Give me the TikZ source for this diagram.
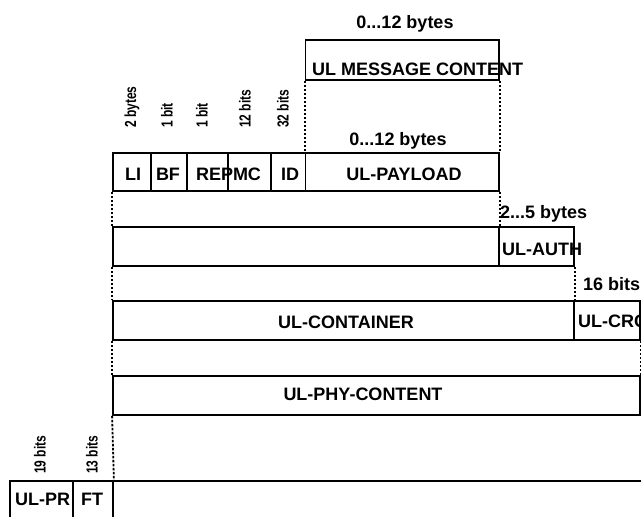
\documentclass[tikz,border=0pt]{standalone}
\usepackage{fontspec}
\setmainfont{Liberation Sans}
\newfontfamily\narrowlbl[FakeStretch=0.75]{Liberation Sans}
\begin{document}
\begin{tikzpicture}[x=1pt,y=-1pt,
  cell/.style={draw=black, line width=1.8pt, inner sep=0pt, fill=none},
  dots/.style={draw=black, line width=1.8pt, dash pattern=on 2.4pt off 1.6pt},
  big/.style={inner sep=0pt, font=\fontsize{18}{20}\selectfont\bfseries},
  small/.style={inner sep=0pt, rotate=90, anchor=west, font=\narrowlbl\fontsize{16}{18}\selectfont\bfseries}]
\useasboundingbox (0,0) rectangle (641,517);
\clip (0,0) rectangle (641,517);
% cells
\node[cell, minimum width=193.5pt, minimum height=40pt] (msg) at (402.25,60) {};
\node[cell, minimum width=38pt, minimum height=38pt] (LI) at (132,172) {};
\node[cell, minimum width=36pt, minimum height=38pt] (BF) at (169,172) {};
\node[cell, minimum width=41pt, minimum height=38pt] (REP) at (207.5,172) {};
\node[cell, minimum width=43pt, minimum height=38pt] (MC) at (249.5,172) {};
\node[cell, minimum width=34.5pt, minimum height=38pt] (ID) at (288.25,172) {};
\node[cell, minimum width=193.5pt, minimum height=38pt] (pay) at (402.25,172) {};
\node[cell, minimum width=386pt, minimum height=39pt] (rtwo) at (306,246.5) {};
\node[cell, minimum width=75pt, minimum height=39pt] (auth) at (536.5,246.5) {};
\node[cell, minimum width=461pt, minimum height=39pt] (cont) at (343.5,320.5) {};
\node[cell, minimum width=66pt, minimum height=39pt] (crc) at (607,320.5) {};
\node[cell, minimum width=527pt, minimum height=39pt] (phy) at (376.5,395.5) {};
\node[cell, minimum width=63pt, minimum height=79pt] (pr) at (41.5,520.5) {};
\node[cell, minimum width=40pt, minimum height=79pt] (ft) at (93,520.5) {};
\node[cell, minimum width=587pt, minimum height=79pt] (rfive) at (406.5,520.5) {};
% dotted connectors
\draw[dots] (msg.south west) -- (pay.north west);
\draw[dots] (msg.south east) -- (pay.north east);
\draw[dots] (LI.south west) -- (rtwo.north west);
\draw[dots] (pay.south east) -- (rtwo.north east);
\draw[dots] (rtwo.south west) -- (cont.north west);
\draw[dots] (auth.south east) -- (cont.north east);
\draw[dots] (cont.south west) -- (phy.north west);
\draw[dots] (crc.south east) -- (phy.north east);
\draw[dots] (phy.south west) -- (ft.north east);
% labels
\node[big, anchor=base] (l1) at (405,28) {0...12 bytes};
\node[big, anchor=base west] (l2) at (312,75) {UL MESSAGE CONTENT};
\node[big, anchor=base] (l3) at (398,145) {0...12 bytes};
\node[big, anchor=base] (tLI) at (133,180) {LI};
\node[big, anchor=base] (tBF) at (168,180) {BF};
\node[big, anchor=base west] (tREP) at (196,180) {REP};
\node[big, anchor=base] (tMC) at (247,180) {MC};
\node[big, anchor=base] (tID) at (290,180) {ID};
\node[big, anchor=base] (tPAY) at (404,180) {UL-PAYLOAD};
\node[big, anchor=base west] (l4) at (500,218) {2...5 bytes};
\node[big, anchor=base west] (tAUTH) at (502,255) {UL-AUTH};
\node[big, anchor=base west] (l5) at (583,290) {16 bits};
\node[big, anchor=base] (tCONT) at (346,328) {UL-CONTAINER};
\node[big, anchor=base west] (tCRC) at (578,327) {UL-CRC};
\node[big, anchor=base] (tPHY) at (363,400) {UL-PHY-CONTENT};
\node[big, anchor=base west] (tPR) at (15,505) {UL-PR};
\node[big, anchor=base] (tFT) at (92,505) {FT};
% rotated size labels
\node[small] (s1) at (132,128) {2 bytes};
\node[small] (s2) at (167,128) {1 bit};
\node[small] (s3) at (202,128) {1 bit};
\node[small] (s4) at (245,128) {12 bits};
\node[small] (s5) at (283,128) {32 bits};
\node[small] (s6) at (40,474) {19 bits};
\node[small] (s7) at (92,474) {13 bits};
\end{tikzpicture}
\end{document}
